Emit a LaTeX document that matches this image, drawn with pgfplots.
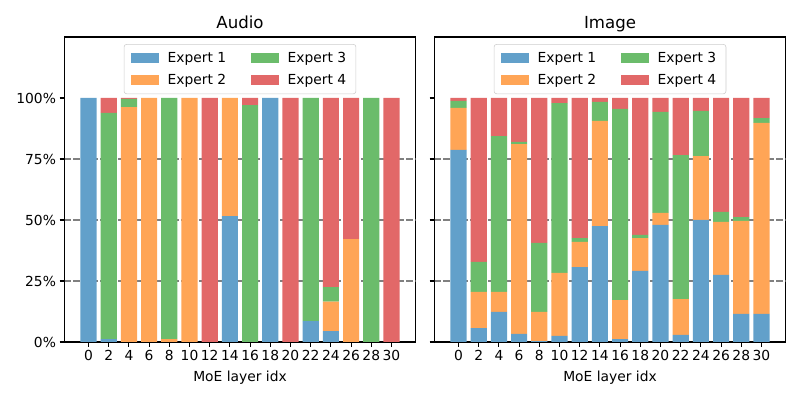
\documentclass[border=0pt]{standalone}
\usepackage{fontspec}
\setmainfont{DejaVu Sans}
\usepackage{pgfplots}
\pgfplotsset{compat=1.18}
\usepackage{pgfplotstable}

\definecolor{cA}{RGB}{98,160,202}
\definecolor{cB}{RGB}{255,165,86}
\definecolor{cC}{RGB}{107,188,107}
\definecolor{cD}{RGB}{226,104,104}
\definecolor{legedge}{RGB}{204,204,204}
\definecolor{dashgray}{RGB}{128,128,128}

\tikzset{refline/.style={dashgray, line width=1.2pt, dash pattern=on 4.5pt off 2pt}}

\pgfplotstableread{
x e1 e2 e3 e4
0 100 0 0 0
2 1.2 0 92.7 6.1
4 0 96.3 3.3 0.4
6 0 100 0 0
8 0 1.2 98.8 0
10 0 100 0 0
12 0 0 0 100
14 51.6 48.4 0 0
16 0 0 97.1 2.9
18 100 0 0 0
20 0 0 0 100
22 8.6 0 91.4 0
24 4.5 12.0 6.0 77.5
26 0 42.2 0 57.8
28 0 0 100 0
30 0 0 0 100
}\audiodata

\pgfplotstableread{
x e1 e2 e3 e4
0 78.7 17.2 2.9 1.2
2 5.7 14.8 12.3 67.2
4 12.3 8.2 63.9 15.6
6 3.3 77.8 0.9 18.0
8 0.4 11.9 28.3 59.4
10 2.5 25.8 69.6 2.1
12 30.7 10.3 1.6 57.4
14 47.5 43.1 7.8 1.6
16 1.2 16.0 78.3 4.5
18 29.1 13.5 1.3 56.1
20 48.0 4.9 41.4 5.7
22 2.9 14.7 59.0 23.4
24 50.0 26.2 18.5 5.3
26 27.5 21.7 4.1 46.7
28 11.5 38.1 1.6 48.8
30 11.5 78.3 2.0 8.2
}\imagedata

\pgfplotsset{
  moe/.style={
    scale only axis,
    width=3.51in, height=3.05in,
    anchor=south west,
    ybar stacked, bar width=1.6,
    xmin=-2.38, xmax=32.38, ymin=0, ymax=125,
    xtick={0,2,...,30}, ytick={0,25,50,75,100},
    tick align=outside, tick pos=left,
    major tick length=3.5pt,
    every tick/.style={black, line width=0.8pt},
    axis line style={line width=0.8pt},
    /pgf/number format/assume math mode=true,
    ticklabel style={font=\fontsize{10}{12}\selectfont},
    xticklabel style={inner sep=1pt, yshift=-1.5pt},
    yticklabel style={inner sep=1pt, xshift=-1.5pt},
    xlabel={MoE layer idx},
    label style={font=\fontsize{10}{12}\selectfont},
    xlabel style={yshift=-3pt},
    every axis title/.style={at={(0.5,1)}, anchor=base, yshift=6pt,
      font=\fontsize{12}{14}\selectfont},
    legend columns=2, transpose legend,
    legend image code/.code={\path[##1, sharp corners] (0pt,-3.5pt) rectangle (20pt,3.5pt);},
    legend style={at={(0.5,0.977)}, anchor=north, draw=legedge, rounded corners=2pt,
      fill=white, font=\fontsize{10}{12}\selectfont, inner xsep=5pt, inner ysep=3.5pt,
      row sep=3pt,
      /tikz/every odd column/.append style={column sep=4.5pt},
      /tikz/every even column/.append style={column sep=16pt}},
    legend cell align=left,
  },
}

\begin{document}
\begin{tikzpicture}
\path[use as bounding box] (0,0) rectangle (8in,4in);
\begin{axis}[moe, at={(0.645in,0.58in)}, title={Audio},
  yticklabels={0\%,25\%,50\%,75\%,100\%}]
\addplot[fill=cA, draw=none] table[x=x,y=e1]{\audiodata};
\addplot[fill=cB, draw=none] table[x=x,y=e2]{\audiodata};
\addplot[fill=cC, draw=none] table[x=x,y=e3]{\audiodata};
\addplot[fill=cD, draw=none] table[x=x,y=e4]{\audiodata};
\legend{Expert 1,Expert 2,Expert 3,Expert 4}
\draw[refline] (axis cs:-2.38,25) -- (axis cs:32.38,25);
\draw[refline] (axis cs:-2.38,50) -- (axis cs:32.38,50);
\draw[refline] (axis cs:-2.38,75) -- (axis cs:32.38,75);
\end{axis}
\begin{axis}[moe, at={(4.345in,0.58in)}, title={Image},
  yticklabels={}]
\addplot[fill=cA, draw=none] table[x=x,y=e1]{\imagedata};
\addplot[fill=cB, draw=none] table[x=x,y=e2]{\imagedata};
\addplot[fill=cC, draw=none] table[x=x,y=e3]{\imagedata};
\addplot[fill=cD, draw=none] table[x=x,y=e4]{\imagedata};
\legend{Expert 1,Expert 2,Expert 3,Expert 4}
\draw[refline] (axis cs:-2.38,25) -- (axis cs:32.38,25);
\draw[refline] (axis cs:-2.38,50) -- (axis cs:32.38,50);
\draw[refline] (axis cs:-2.38,75) -- (axis cs:32.38,75);
\end{axis}
\end{tikzpicture}
\end{document}
